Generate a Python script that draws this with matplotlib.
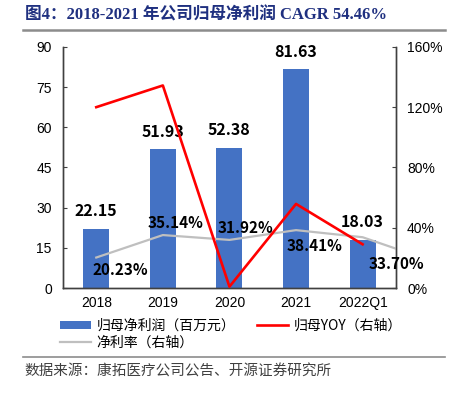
import matplotlib
matplotlib.use("Agg")
import matplotlib.pyplot as plt
from matplotlib.ticker import FuncFormatter

plt.rcParams['font.family'] = ['Liberation Sans', 'Noto Sans CJK SC', 'DejaVu Sans']

# dados
anos = ['2018', '2019', '2020', '2021', '2022Q1']
lucro = [22.15, 51.93, 52.38, 81.63, 18.03]            # 归母净利润（百万元）
yoy = [120.0, 134.4, 0.9, 55.8, 29.0]                  # 归母YOY（%）
margem = [20.23, 35.14, 31.92, 38.41, 33.70, 18.5]      # 净利率（%），último ponto fica fora do eixo

cjk = ['Noto Sans CJK SC', 'DejaVu Sans']
cinza_eixo = '#404040'

fig = plt.figure(figsize=(4.53, 3.94), dpi=100)
ax = fig.add_axes([0.139, 0.269, 0.735, 0.612])
ax2 = ax.twinx()

x = list(range(len(anos)))
barras = ax.bar(x, lucro, width=0.39, color='#4472C4', zorder=2)
ax.set_xlim(-0.5, 4.5)
ax.set_ylim(0, 90)
ax.set_yticks([0, 15, 30, 45, 60, 75, 90])
ax.set_xticks(x)
ax.set_xticklabels(anos)

linha_yoy, = ax2.plot(x, yoy, color='#FF0000', lw=1.9, zorder=3)
linha_margem, = ax2.plot(list(range(len(margem))), margem, color='#BFBFBF', lw=1.6, zorder=2)
ax2.set_ylim(0, 160)
ax2.set_yticks([0, 40, 80, 120, 160])
ax2.yaxis.set_major_formatter(FuncFormatter(lambda v, p: f'{v:.0f}%'))
ax2.set_xlim(-0.5, 4.5)

for a in (ax, ax2):
    a.spines['top'].set_visible(False)
    for s in ('left', 'right', 'bottom'):
        a.spines[s].set_color(cinza_eixo)
        a.spines[s].set_linewidth(1.0)
    a.tick_params(axis='y', direction='in', length=3, color=cinza_eixo, labelsize=10, pad=8)
ax.tick_params(axis='x', length=0, labelsize=10, pad=6)
ax.set_zorder(ax2.get_zorder() - 1)
ax.patch.set_visible(True)
ax2.patch.set_visible(False)

for xi, v in zip(x, lucro):
    ax.annotate(f'{v:.2f}', (xi, v), xytext=(0, 12.5), textcoords='offset points',
                ha='center', va='center', fontsize=11.5, family=cjk, fontweight='bold')

desloc = [(17, -9), (9, 9), (11.5, 8.5), (13, -11.5), (24, -19)]
for xi, v, (dx, dy) in zip(x, margem, desloc):
    ax2.annotate(f'{v:.2f}%', (xi, v), xytext=(dx, dy), textcoords='offset points',
                 ha='center', va='center', fontsize=11, family=cjk, fontweight='bold')

fig.legend([barras, linha_margem, linha_yoy],
           ['归母净利润（百万元）', '净利率（右轴）', '归母YOY（右轴）'],
           ncol=2, loc='center', bbox_to_anchor=(0.51, 0.152), frameon=False,
           prop={'family': cjk, 'size': 10}, handlelength=2.2, handleheight=0.5,
           columnspacing=1.6, labelspacing=0.2, handletextpad=0.4)

fig.text(0.055, 0.962, '图4：2018-2021 年公司归母净利润 CAGR 54.46%', ha='left', va='center',
         fontsize=12, fontweight='bold', color='#1F3080',
         family=['Liberation Serif', 'Noto Sans CJK SC'])
fig.add_artist(plt.Line2D([0.051, 0.982], [0.924, 0.924], color='#8C8C8C', lw=1.8))
fig.add_artist(plt.Line2D([0.051, 0.982], [0.094, 0.094], color='#8C8C8C', lw=1.2))
fig.text(0.055, 0.058, '数据来源：康拓医疗公司公告、开源证券研究所', ha='left', va='center',
         fontsize=10.5, color='#404040', family=cjk)

fig.savefig('out.png', dpi=100)
